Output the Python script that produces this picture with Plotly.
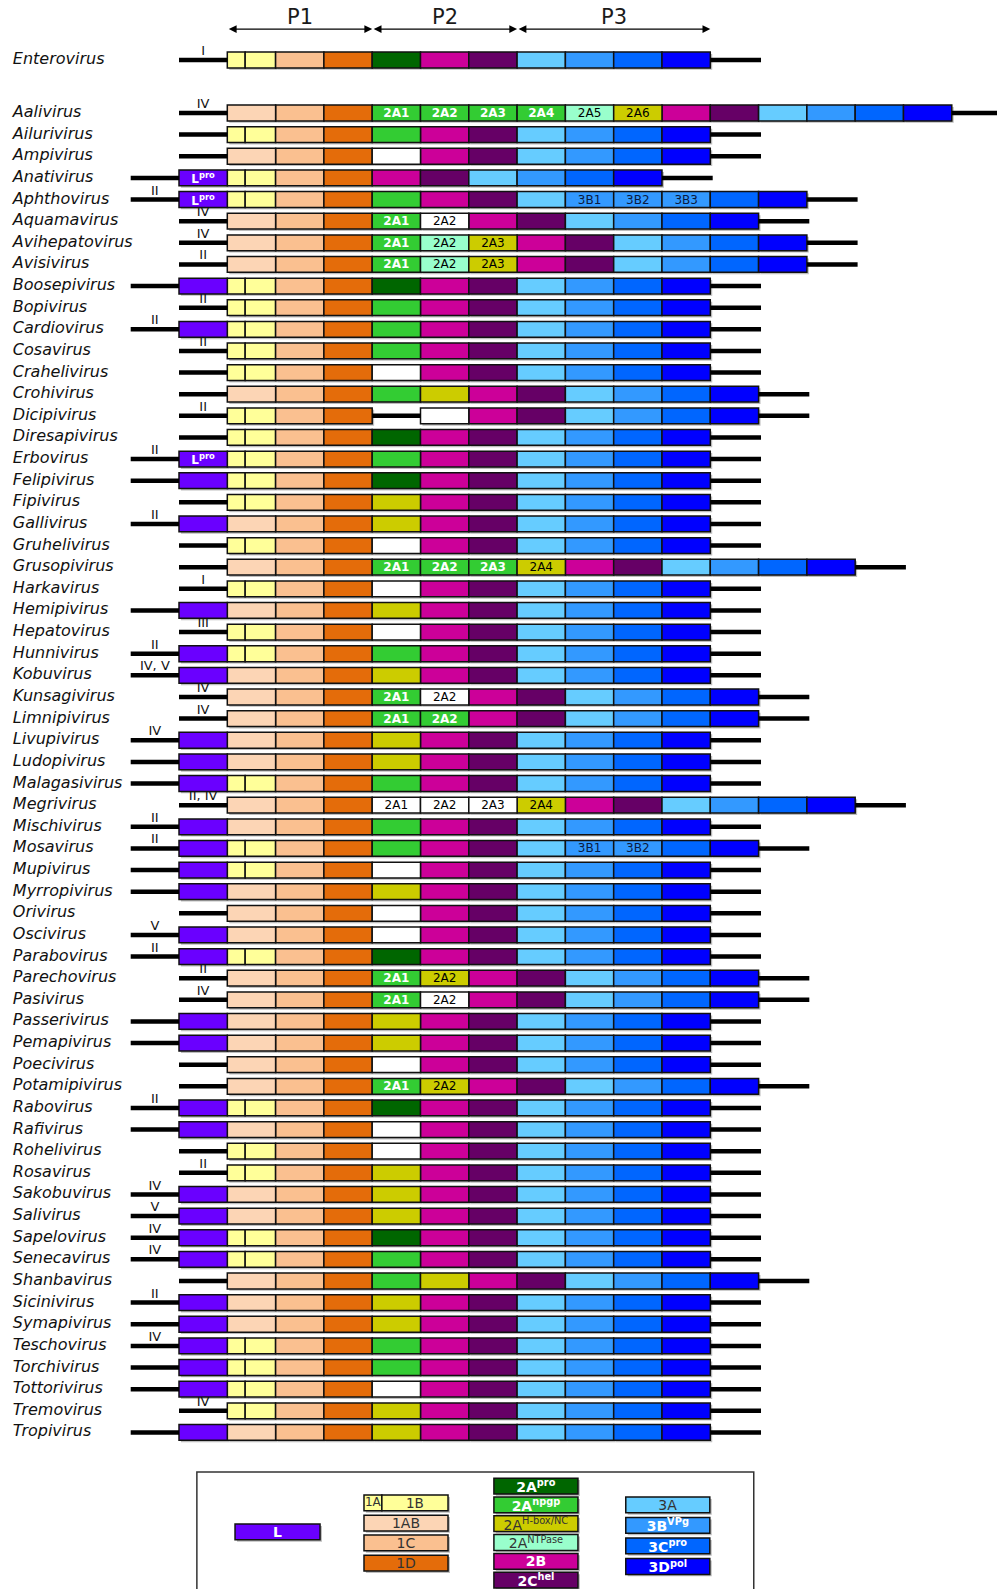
import plotly.graph_objects as go

# ---------------- data ----------------
GENERA = ["Enterovirus", "Aalivirus", "Ailurivirus", "Ampivirus", "Anativirus", "Aphthovirus",
          "Aquamavirus", "Avihepatovirus", "Avisivirus", "Boosepivirus", "Bopivirus", "Cardiovirus",
          "Cosavirus", "Crahelivirus", "Crohivirus", "Dicipivirus", "Diresapivirus", "Erbovirus",
          "Felipivirus", "Fipivirus", "Gallivirus", "Gruhelivirus", "Grusopivirus", "Harkavirus",
          "Hemipivirus", "Hepatovirus", "Hunnivirus", "Kobuvirus", "Kunsagivirus", "Limnipivirus",
          "Livupivirus", "Ludopivirus", "Malagasivirus", "Megrivirus", "Mischivirus", "Mosavirus",
          "Mupivirus", "Myrropivirus", "Orivirus", "Oscivirus", "Parabovirus", "Parechovirus",
          "Pasivirus", "Passerivirus", "Pemapivirus", "Poecivirus", "Potamipivirus", "Rabovirus",
          "Rafivirus", "Rohelivirus", "Rosavirus", "Sakobuvirus", "Salivirus", "Sapelovirus",
          "Senecavirus", "Shanbavirus", "Sicinivirus", "Symapivirus", "Teschovirus", "Torchivirus",
          "Tottorivirus", "Tremovirus", "Tropivirus"]

IRES_TYPE = ["I", "IV", "", "", "", "II",
             "IV", "IV", "II", "", "II", "II",
             "II", "", "", "II", "", "II",
             "", "", "II", "", "", "I",
             "", "III", "II", "IV, V", "IV", "IV",
             "IV", "", "", "II, IV", "II", "II",
             "", "", "", "V", "II", "II",
             "IV", "", "", "", "", "II",
             "", "", "II", "IV", "V", "IV",
             "IV", "", "II", "", "IV", "",
             "", "IV", ""]

GENOMES = [
    "1A 1B 1C 1D pro 2B 2C 3A 3B 3C 3D",                                                   # Enterovirus
    "1AB 1C 1D npgp:2A1 npgp:2A2 npgp:2A3 npgp:2A4 ntp:2A5 hbox:2A6 2B 2C 3A 3B 3C 3D",    # Aalivirus
    "1A 1B 1C 1D npgp 2B 2C 3A 3B 3C 3D",                                                  # Ailurivirus
    "1AB 1C 1D unk 2B 2C 3A 3B 3C 3D",                                                     # Ampivirus
    "Lpro 1A 1B 1C 1D 2B 2C 3A 3B 3C 3D",                                                  # Anativirus
    "Lpro 1A 1B 1C 1D npgp 2B 2C 3A 3B:3B1 3B:3B2 3B:3B3 3C 3D",                           # Aphthovirus
    "1AB 1C 1D npgp:2A1 unk:2A2 2B 2C 3A 3B 3C 3D",                                        # Aquamavirus
    "1AB 1C 1D npgp:2A1 ntp:2A2 hbox:2A3 2B 2C 3A 3B 3C 3D",                               # Avihepatovirus
    "1AB 1C 1D npgp:2A1 ntp:2A2 hbox:2A3 2B 2C 3A 3B 3C 3D",                               # Avisivirus
    "L 1A 1B 1C 1D pro 2B 2C 3A 3B 3C 3D",                                                 # Boosepivirus
    "1A 1B 1C 1D npgp 2B 2C 3A 3B 3C 3D",                                                  # Bopivirus
    "L 1A 1B 1C 1D npgp 2B 2C 3A 3B 3C 3D",                                                # Cardiovirus
    "1A 1B 1C 1D npgp 2B 2C 3A 3B 3C 3D",                                                  # Cosavirus
    "1A 1B 1C 1D unk 2B 2C 3A 3B 3C 3D",                                                   # Crahelivirus
    "1AB 1C 1D npgp hbox 2B 2C 3A 3B 3C 3D",                                               # Crohivirus
    "1A 1B 1C 1D gap unk 2B 2C 3A 3B 3C 3D",                                               # Dicipivirus
    "1A 1B 1C 1D pro 2B 2C 3A 3B 3C 3D",                                                   # Diresapivirus
    "Lpro 1A 1B 1C 1D npgp 2B 2C 3A 3B 3C 3D",                                             # Erbovirus
    "L 1A 1B 1C 1D pro 2B 2C 3A 3B 3C 3D",                                                 # Felipivirus
    "1A 1B 1C 1D hbox 2B 2C 3A 3B 3C 3D",                                                  # Fipivirus
    "L 1AB 1C 1D hbox 2B 2C 3A 3B 3C 3D",                                                  # Gallivirus
    "1A 1B 1C 1D unk 2B 2C 3A 3B 3C 3D",                                                   # Gruhelivirus
    "1AB 1C 1D npgp:2A1 npgp:2A2 npgp:2A3 hbox:2A4 2B 2C 3A 3B 3C 3D",                     # Grusopivirus
    "1A 1B 1C 1D unk 2B 2C 3A 3B 3C 3D",                                                   # Harkavirus
    "L 1AB 1C 1D hbox 2B 2C 3A 3B 3C 3D",                                                  # Hemipivirus
    "1A 1B 1C 1D unk 2B 2C 3A 3B 3C 3D",                                                   # Hepatovirus
    "L 1A 1B 1C 1D npgp 2B 2C 3A 3B 3C 3D",                                                # Hunnivirus
    "L 1AB 1C 1D hbox 2B 2C 3A 3B 3C 3D",                                                  # Kobuvirus
    "1AB 1C 1D npgp:2A1 unk:2A2 2B 2C 3A 3B 3C 3D",                                        # Kunsagivirus
    "1AB 1C 1D npgp:2A1 npgp:2A2 2B 2C 3A 3B 3C 3D",                                       # Limnipivirus
    "L 1AB 1C 1D hbox 2B 2C 3A 3B 3C 3D",                                                  # Livupivirus
    "L 1AB 1C 1D hbox 2B 2C 3A 3B 3C 3D",                                                  # Ludopivirus
    "L 1A 1B 1C 1D npgp 2B 2C 3A 3B 3C 3D",                                                # Malagasivirus
    "1AB 1C 1D unk:2A1 unk:2A2 unk:2A3 hbox:2A4 2B 2C 3A 3B 3C 3D",                        # Megrivirus
    "L 1AB 1C 1D npgp 2B 2C 3A 3B 3C 3D",                                                  # Mischivirus
    "L 1A 1B 1C 1D npgp 2B 2C 3A 3B:3B1 3B:3B2 3C 3D",                                     # Mosavirus
    "L 1A 1B 1C 1D unk 2B 2C 3A 3B 3C 3D",                                                 # Mupivirus
    "L 1AB 1C 1D hbox 2B 2C 3A 3B 3C 3D",                                                  # Myrropivirus
    "1AB 1C 1D unk 2B 2C 3A 3B 3C 3D",                                                     # Orivirus
    "L 1AB 1C 1D unk 2B 2C 3A 3B 3C 3D",                                                   # Oscivirus
    "L 1A 1B 1C 1D pro 2B 2C 3A 3B 3C 3D",                                                 # Parabovirus
    "1AB 1C 1D npgp:2A1 hbox:2A2 2B 2C 3A 3B 3C 3D",                                       # Parechovirus
    "1AB 1C 1D npgp:2A1 unk:2A2 2B 2C 3A 3B 3C 3D",                                        # Pasivirus
    "L 1AB 1C 1D hbox 2B 2C 3A 3B 3C 3D",                                                  # Passerivirus
    "L 1AB 1C 1D hbox 2B 2C 3A 3B 3C 3D",                                                  # Pemapivirus
    "1AB 1C 1D unk 2B 2C 3A 3B 3C 3D",                                                     # Poecivirus
    "1AB 1C 1D npgp:2A1 hbox:2A2 2B 2C 3A 3B 3C 3D",                                       # Potamipivirus
    "L 1A 1B 1C 1D pro 2B 2C 3A 3B 3C 3D",                                                 # Rabovirus
    "L 1AB 1C 1D unk 2B 2C 3A 3B 3C 3D",                                                   # Rafivirus
    "1A 1B 1C 1D unk 2B 2C 3A 3B 3C 3D",                                                   # Rohelivirus
    "1A 1B 1C 1D hbox 2B 2C 3A 3B 3C 3D",                                                  # Rosavirus
    "L 1AB 1C 1D hbox 2B 2C 3A 3B 3C 3D",                                                  # Sakobuvirus
    "L 1AB 1C 1D hbox 2B 2C 3A 3B 3C 3D",                                                  # Salivirus
    "L 1A 1B 1C 1D pro 2B 2C 3A 3B 3C 3D",                                                 # Sapelovirus
    "L 1A 1B 1C 1D npgp 2B 2C 3A 3B 3C 3D",                                                # Senecavirus
    "1AB 1C 1D npgp hbox 2B 2C 3A 3B 3C 3D",                                               # Shanbavirus
    "L 1AB 1C 1D hbox 2B 2C 3A 3B 3C 3D",                                                  # Sicinivirus
    "L 1AB 1C 1D hbox 2B 2C 3A 3B 3C 3D",                                                  # Symapivirus
    "L 1A 1B 1C 1D npgp 2B 2C 3A 3B 3C 3D",                                                # Teschovirus
    "L 1A 1B 1C 1D npgp 2B 2C 3A 3B 3C 3D",                                                # Torchivirus
    "L 1A 1B 1C 1D unk 2B 2C 3A 3B 3C 3D",                                                 # Tottorivirus
    "1A 1B 1C 1D hbox 2B 2C 3A 3B 3C 3D",                                                  # Tremovirus
    "L 1AB 1C 1D hbox 2B 2C 3A 3B 3C 3D",                                                  # Tropivirus
]

REGIONS = ["P1", "P2", "P3"]
REGION_SPAN = [(1, 4), (4, 7), (7, 11)]

LEGEND_ITEMS = ["L", "1A", "1B", "1AB", "1C", "1D",
                "pro", "npgp", "hbox", "ntp", "2B", "2C",
                "3A", "3B", "3C", "3D"]
LEGEND_TEXT = ["L", "1A", "1B", "1AB", "1C", "1D",
               "2A<sup>pro</sup>", "2A<sup>npgp</sup>", "2A<sup>H-box/NC</sup>", "2A<sup>NTPase</sup>",
               "2B", "2C<sup>hel</sup>",
               "3A", "3B<sup>VPg</sup>", "3C<sup>pro</sup>", "3D<sup>pol</sup>"]

# ---------------- styles ----------------
COLORS = {"L": "#6a00ff", "1A": "#ffff99", "1B": "#ffff99", "1AB": "#fcd5b5", "1C": "#fac090",
          "1D": "#e46c0a", "pro": "#006600", "npgp": "#33cc33", "hbox": "#cccc00",
          "ntp": "#99ffcc", "unk": "#ffffff", "2B": "#cc0099", "2C": "#660066",
          "3A": "#66ccff", "3B": "#3399ff", "3C": "#0066ff", "3D": "#0000ff"}
TEXT_STYLE = {"L": ("white", True), "npgp": ("white", True), "pro": ("white", True),
              "2B": ("white", True), "2C": ("white", True), "3B": ("#0a1a40", False),
              "3C": ("white", True), "3D": ("white", True), "unk": ("black", False),
              "ntp": ("black", False), "hbox": ("black", False)}
WIDTHS = {"1A": 0.37, "1B": 0.63}
FONT = "DejaVu Sans"
BOX_H = 0.73
ROW_POS = [-2.45] + list(range(len(GENERA) - 1))

segs = {}      # type -> dict of lists
shadow = {"y": [], "base": [], "x": []}
utr_x, utr_y = [], []
ires_x, ires_y, ires_t = [], [], []
free_x, free_y, free_t = [], [], []   # labels too wide for their box


def add_seg(kind, y, x0, w, label, size=12, legend=False):
    d = segs.setdefault(kind, {"y": [], "base": [], "x": [], "text": [], "color": [], "size": []})
    d["y"].append(y)
    d["base"].append(x0)
    d["x"].append(w)
    shadow["y"].append(y + 0.09)
    shadow["base"].append(x0 + 0.04)
    shadow["x"].append(w)
    col, bold = TEXT_STYLE.get(kind, ("#333333", False))
    if legend and kind in ("1A", "1B", "1AB", "1C", "1D", "3A", "hbox", "ntp"):
        col, bold = "#333333", False
    if legend and kind == "3B":
        col, bold = "white", True
    if legend and kind == "1A":
        free_x.append(x0 + w / 2)
        free_y.append(y)
        free_t.append(label)
        label = ""
    d["text"].append(("<b>%s</b>" % label) if (label and bold) else label)
    d["color"].append(col)
    d["size"].append(size)


for name, y, ires, genome in zip(GENERA, ROW_POS, IRES_TYPE, GENOMES):
    codes = genome.split()
    start = 0 if codes[0].startswith("L") else 1
    # 5' UTR
    utr_x += [start - 1, start, None]
    utr_y += [y, y, None]
    if ires:
        ires_x.append(start - 0.5)
        ires_y.append(y - 0.38)
        ires_t.append(ires)
    pos = start
    for c in codes:
        kind, _, label = c.partition(":")
        if kind == "Lpro":
            kind, label = "L", "L<sup>pro</sup>"
        w = WIDTHS.get(kind, 1.0)
        if kind == "gap":
            utr_x += [pos, pos + w, None]
            utr_y += [y, y, None]
        else:
            add_seg(kind, y, pos, w, label)
        pos += w
    # 3' UTR
    utr_x += [pos, pos + 1.05, None]
    utr_y += [y, y, None]

# legend entries (column layout)
LEG_POS = {"L": (1.16, 65.6), "1A": (3.83, 64.26), "1B": (4.20, 64.26), "1AB": (3.83, 65.19),
           "1C": (3.83, 66.11), "1D": (3.83, 67.04),
           "pro": (6.52, 63.48), "npgp": (6.52, 64.35), "hbox": (6.52, 65.22), "ntp": (6.52, 66.09),
           "2B": (6.52, 66.96), "2C": (6.52, 67.83),
           "3A": (9.25, 64.35), "3B": (9.25, 65.30), "3C": (9.25, 66.25), "3D": (9.25, 67.20)}
LEG_W = {"L": 1.76, "1A": 0.37, "1B": 1.37}
LEG_SIZE = {"1A": 12.5, "1B": 13.5}
for k, t in zip(LEGEND_ITEMS, LEGEND_TEXT):
    x0, y = LEG_POS[k]
    add_seg(k, y, x0, LEG_W.get(k, 1.74), t, size=LEG_SIZE.get(k, 14), legend=True)

fig = go.Figure()

# box shadows
fig.add_trace(go.Bar(orientation="h", y=shadow["y"], x=shadow["x"], base=shadow["base"], width=BOX_H,
                     marker=dict(color="#bdbdbd", line=dict(width=0)), hoverinfo="skip"))

# UTR lines
fig.add_trace(go.Scatter(x=utr_x, y=utr_y, mode="lines", line=dict(color="black", width=4.5),
                         hoverinfo="skip"))

for kind, d in segs.items():
    fig.add_trace(go.Bar(
        orientation="h", y=d["y"], x=d["x"], base=d["base"], width=BOX_H,
        marker=dict(color=COLORS[kind], line=dict(color="#111111", width=1.5)),
        text=d["text"], textposition="inside", insidetextanchor="middle",
        constraintext="none", textangle=0,
        textfont=dict(family=FONT, color=d["color"], size=d["size"]),
        hoverinfo="skip"))

# labels that do not fit inside their box
fig.add_trace(go.Scatter(x=free_x, y=free_y, mode="text", text=free_t, textposition="middle center",
                         textfont=dict(family=FONT, size=12, color="#333333"), hoverinfo="skip"))

# genus names
fig.add_trace(go.Scatter(x=[-3.44] * len(GENERA), y=ROW_POS, mode="text",
                         text=["<i>%s</i>" % g for g in GENERA], textposition="middle right",
                         textfont=dict(family=FONT, size=16, color="#111111"), hoverinfo="skip"))
# IRES types
fig.add_trace(go.Scatter(x=ires_x, y=ires_y, mode="text", text=ires_t, textposition="middle center",
                         textfont=dict(family=FONT, size=13, color="#111111"), hoverinfo="skip"))

# region headers
for lab, (a, b) in zip(REGIONS, REGION_SPAN):
    fig.add_annotation(x=b, y=-3.88, ax=a, ay=-3.88, xref="x", yref="y", axref="x", ayref="y",
                       text="", showarrow=True, arrowhead=2, startarrowhead=2, arrowside="end+start",
                       arrowsize=1.3, arrowwidth=1.2, arrowcolor="black", standoff=0, startstandoff=0)
    fig.add_annotation(x=(a + b) / 2, y=-4.42, xref="x", yref="y", text=lab, showarrow=False,
                       font=dict(family=FONT, size=21, color="#1a1a1a"))

# legend frame
fig.add_shape(type="rect", xref="x", yref="y", x0=0.37, x1=11.9, y0=62.83, y1=69.5,
              line=dict(color="#333333", width=1.5), fillcolor="rgba(0,0,0,0)", layer="below")

fig.update_layout(
    width=997, height=1589, margin=dict(l=0, r=0, t=0, b=0),
    paper_bgcolor="white", plot_bgcolor="white", showlegend=False, barmode="overlay",
    xaxis=dict(range=[-3.706, 16.936], visible=False, fixedrange=True),
    yaxis=dict(range=[68.24, -5.224], visible=False, fixedrange=True),
)

fig.write_html("out.html", config={"displayModeBar": False},
               post_script="document.body.style.margin='0';document.body.style.overflow='hidden';")
